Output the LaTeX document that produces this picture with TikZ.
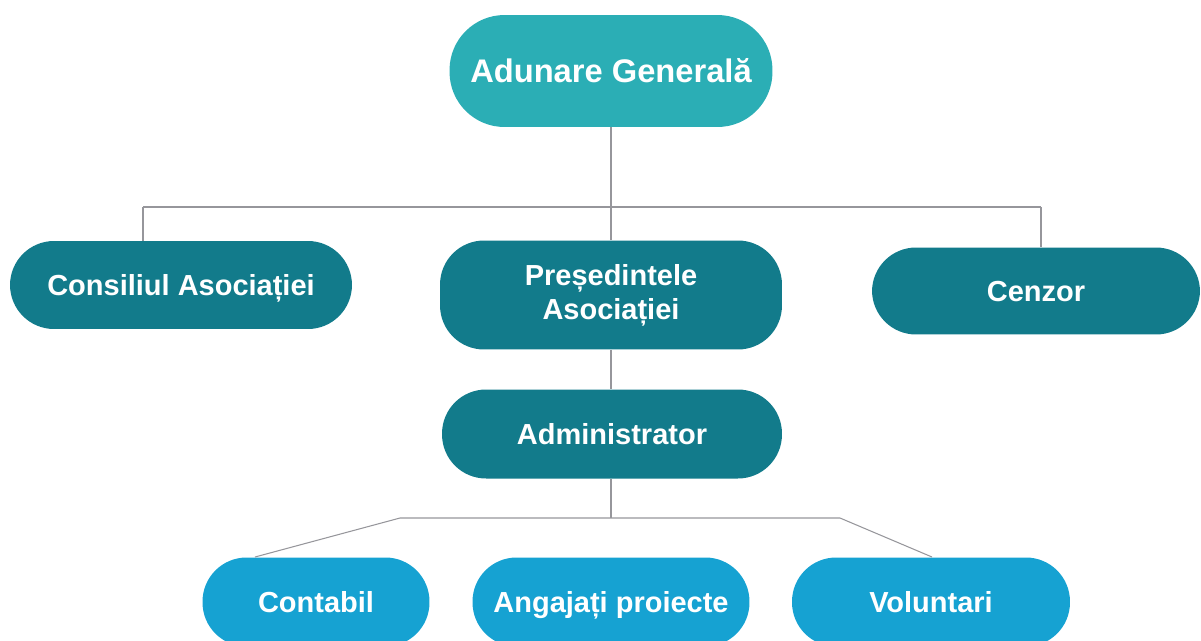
\documentclass[tikz,border=0pt]{standalone}
\usepackage{fontspec}
\setmainfont{Liberation Sans}
\usetikzlibrary{positioning}

\definecolor{topteal}{RGB}{43,174,181}
\definecolor{darkteal}{RGB}{18,123,139}
\definecolor{skyblue}{RGB}{22,162,210}
\definecolor{linegray}{RGB}{150,150,155}

\begin{document}
\begin{tikzpicture}[x=0.02cm,y=-0.02cm,
  box/.style={rectangle, rounded corners=0.88cm, text=white, align=center, inner sep=0pt,
    font=\bfseries\fontsize{16.5}{19.5}\selectfont},
  oneline/.style={box, text height=14pt, text depth=2.2pt},
  conn/.style={draw=linegray, line width=0.6pt}]

\useasboundingbox (0,0) rectangle (1201,640);

% top
\node[box, fill=topteal, minimum width=6.46cm, minimum height=2.24cm, rounded corners=1.1cm,
  text height=15.6pt, text depth=2.3pt,
  font=\bfseries\fontsize{18.6}{22}\selectfont] (ag) at (611,71) {Adunare Generală};

% second level
\node[oneline, fill=darkteal, minimum width=6.84cm, minimum height=1.76cm] (ca) at (181,285) {Consiliul Asociației};
\node[box, fill=darkteal, minimum width=6.84cm, minimum height=2.18cm] (pa) at (611,295) {Președintele\\Asociației};
\node[oneline, fill=darkteal, minimum width=6.56cm, minimum height=1.74cm] (cz) at (1036,291) {Cenzor};
\node[oneline, fill=darkteal, minimum width=6.80cm, minimum height=1.78cm] (ad) at (612,434) {Administrator};

% bottom row
\node[oneline, fill=skyblue, minimum width=4.54cm, minimum height=1.78cm] (co) at (316,602) {Contabil};
\node[oneline, fill=skyblue, minimum width=5.54cm, minimum height=1.78cm] (ap) at (611,602) {Angajați proiecte};
\node[oneline, fill=skyblue, minimum width=5.56cm, minimum height=1.78cm] (vo) at (931,602) {Voluntari};

% connectors
\coordinate (jt) at (611,207);
\coordinate (jl) at (143,207);
\coordinate (jr) at (1041,207);
\draw[conn] (ag.south) -- (jt);
\draw[conn] (jl) -- (jr);
\draw[conn] (jl) -- (jl |- ca.north);
\draw[conn] (jr) -- (jr |- cz.north);
\draw[conn] (jt) -- (pa.north);
\draw[conn] (pa.south) -- (pa.south |- ad.north);

\coordinate (bt) at (611,518);
\coordinate (bl) at (400,518);
\coordinate (br) at (840,518);
\coordinate (cot) at (255,557);
\coordinate (vot) at (932,557);
\draw[conn] (bt |- ad.south) -- (bt);
\draw[conn] (cot) -- (bl) -- (br) -- (vot);
\end{tikzpicture}
\end{document}
